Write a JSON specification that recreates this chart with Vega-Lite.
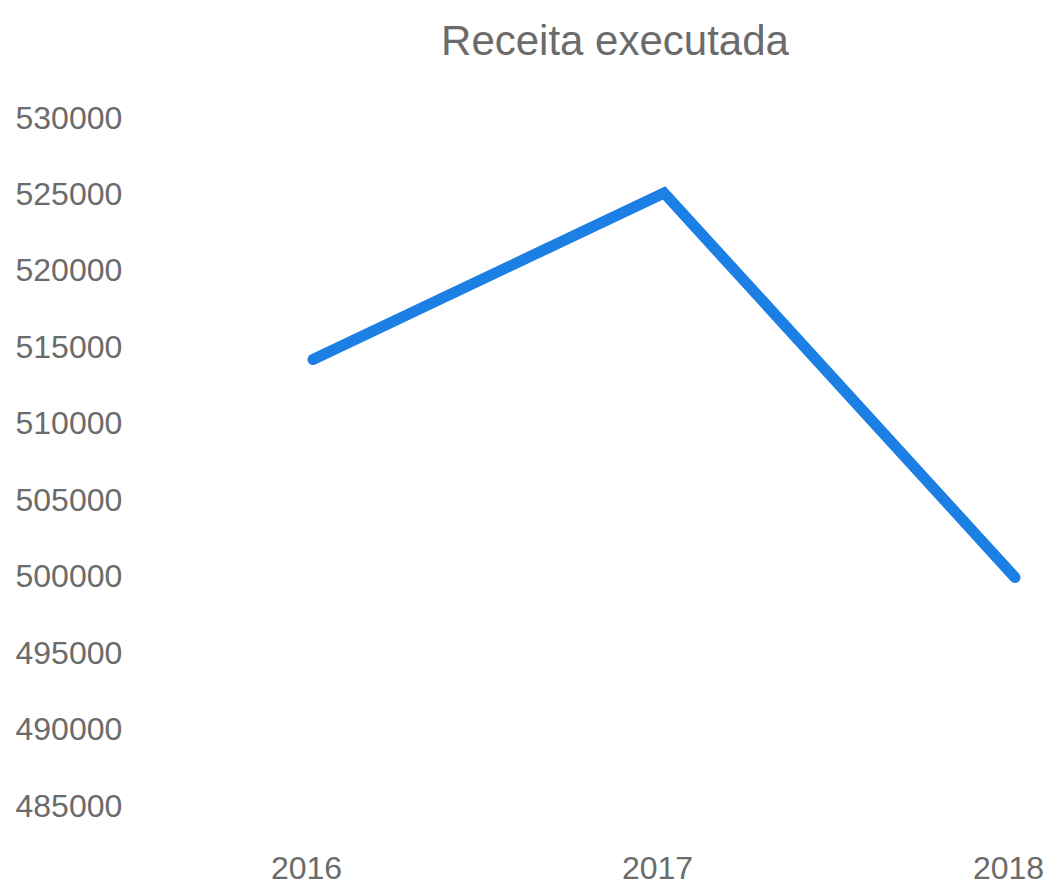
{
  "$schema": "https://vega.github.io/schema/vega-lite/v6.json",
  "autosize": {"type": "none"},
  "padding": {"left": 313, "top": 118, "right": 30, "bottom": 79},
  "width": 702,
  "height": 688,
  "background": "white",
  "title": {
    "text": "Receita executada",
    "font": "Liberation Sans, Arial, sans-serif",
    "fontSize": 42,
    "fontWeight": "normal",
    "color": "#6b6b6b",
    "anchor": "middle",
    "dx": -49,
    "offset": 38
  },
  "data": {
    "values": [
      {"ano": "2016", "receita": 514200},
      {"ano": "2017", "receita": 525100},
      {"ano": "2018", "receita": 499950}
    ]
  },
  "mark": {"type": "line", "color": "#1b7fe3", "strokeWidth": 11, "strokeCap": "round", "strokeJoin": "miter"},
  "encoding": {
    "x": {
      "field": "ano",
      "type": "ordinal",
      "scale": {"type": "point", "padding": 0},
      "axis": {
        "title": null,
        "domain": false,
        "ticks": false,
        "grid": false,
        "labelAngle": 0,
        "labelFont": "Liberation Sans, Arial, sans-serif",
        "labelFontSize": 32,
        "labelColor": "#6b6b6b",
        "labelBaseline": "top",
        "labelPadding": 47,
        "labelOffset": -7,
        "labelAlign": "center",
        "labelOverlap": false,
        "labelBound": false,
        "labelFlush": false
      }
    },
    "y": {
      "field": "receita",
      "type": "quantitative",
      "scale": {"domain": [485000, 530000], "zero": false, "nice": false},
      "axis": {
        "title": null,
        "domain": false,
        "ticks": false,
        "grid": false,
        "values": [485000, 490000, 495000, 500000, 505000, 510000, 515000, 520000, 525000, 530000],
        "format": "d",
        "labelFont": "Liberation Sans, Arial, sans-serif",
        "labelFontSize": 32,
        "labelColor": "#6b6b6b",
        "labelAlign": "left",
        "labelBaseline": "middle",
        "labelPadding": 298,
        "labelOverlap": false,
        "labelBound": false,
        "labelFlush": false
      }
    }
  },
  "config": {"view": {"stroke": null}}
}
